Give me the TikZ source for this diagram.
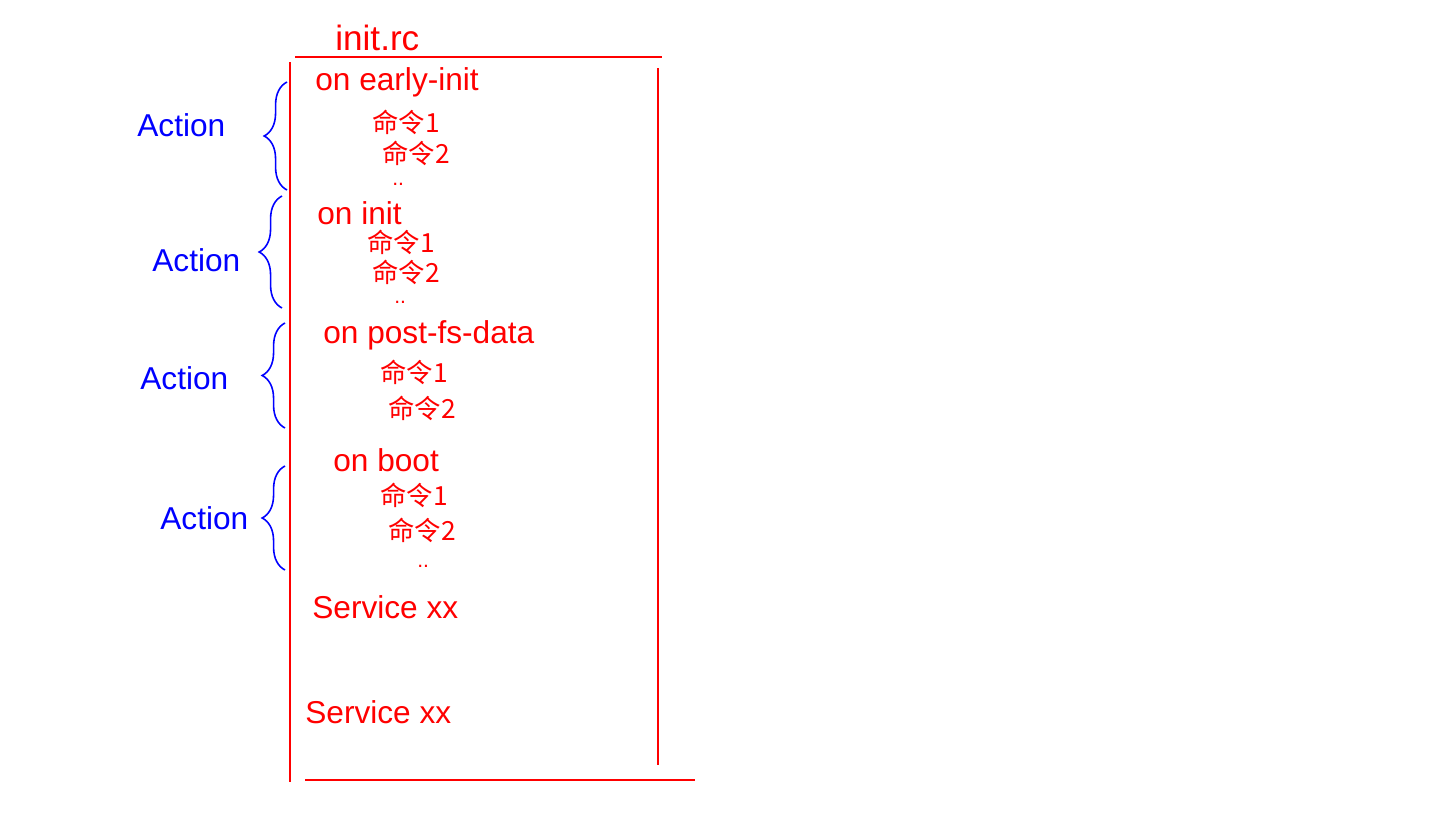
\documentclass[tikz,border=0pt]{standalone}
\usepackage{fontspec}
\setmainfont{Liberation Sans}
\newfontfamily\cjk{Noto Sans CJK SC}
\usetikzlibrary{decorations.pathreplacing}

\begin{document}
\begin{tikzpicture}[x=0.02cm,y=-0.02cm,
  rc/.style={text=red,font=\fontsize{18}{22}\selectfont,anchor=west,inner sep=0pt},
  cmd/.style={text=red,font=\cjk\fontsize{15}{18}\selectfont,anchor=west,inner sep=0pt},
  dots/.style={text=red,font=\fontsize{12}{14}\selectfont,anchor=west,inner sep=0pt},
  act/.style={text=blue,font=\fontsize{18}{22}\selectfont,anchor=west,inner sep=0pt},
  brc/.style={draw=blue,line width=0.9pt,decorate,decoration={brace,amplitude=13pt}}]
\useasboundingbox (0,0) rectangle (1440,818);

% the file box
\draw[red,line width=0.9pt] (295,57)--(662,57);
\draw[red,line width=0.9pt] (290,62)--(290,782);
\draw[red,line width=0.9pt] (658,68)--(658,765);
\draw[red,line width=0.9pt] (305,780)--(695,780);
\node[rc,font=\fontsize{20}{24}\selectfont] (title) at (335,38) {init.rc};

% on early-init
\node[rc] (ei) at (315,82) {on early-init};
\node[cmd] (ei1) at (372,122) {命令1};
\node[cmd] (ei2) at (382,153) {命令2};
\node[dots] (eid) at (392,184) {..};

% on init
\node[rc] (in) at (317,213) {on init};
\node[cmd] (in1) at (367,242) {命令1};
\node[cmd] (in2) at (372,272) {命令2};
\node[dots] (ind) at (394,302) {..};

% on post-fs-data
\node[rc] (pf) at (323,335) {on post-fs-data};
\node[cmd] (pf1) at (380,372) {命令1};
\node[cmd] (pf2) at (388,408) {命令2};

% on boot
\node[rc] (bt) at (333,460) {on boot};
\node[cmd] (bt1) at (380,495) {命令1};
\node[cmd] (bt2) at (388,530) {命令2};
\node[dots] (btd) at (417,566) {..};

% services
\node[rc] (sv1) at (312,607) {Service xx};
\node[rc] (sv2) at (305,712) {Service xx};

% actions
\coordinate (b1s) at (287,190);
\coordinate (b1e) at (287,82);
\coordinate (b2s) at (282,308);
\coordinate (b2e) at (282,196);
\coordinate (b3s) at (285,428);
\coordinate (b3e) at (285,323);
\coordinate (b4s) at (285,570);
\coordinate (b4e) at (285,466);
\draw[brc] (b1s) -- (b1e);
\draw[brc] (b2s) -- (b2e);
\draw[brc] (b3s) -- (b3e);
\draw[brc] (b4s) -- (b4e);
\node[act] (a1) at (137,125) {Action};
\node[act] (a2) at (152,260) {Action};
\node[act] (a3) at (140,378) {Action};
\node[act] (a4) at (160,518) {Action};
\end{tikzpicture}
\end{document}
